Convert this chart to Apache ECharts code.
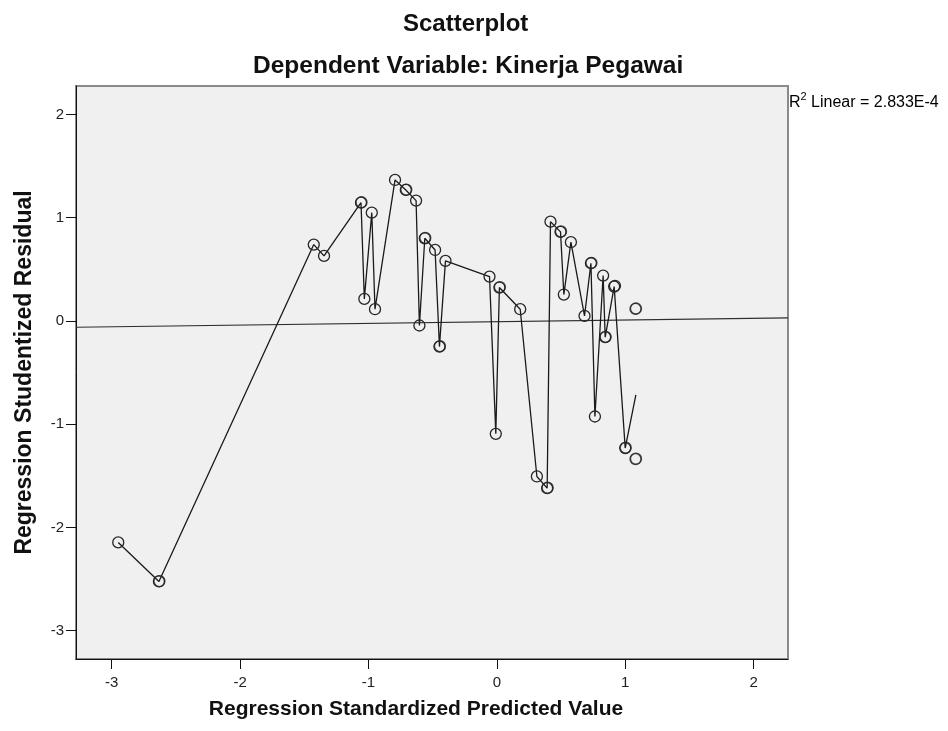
<!DOCTYPE html>
<html>
<head>
<meta charset="utf-8">
<script src="https://cdn.jsdelivr.net/npm/echarts@6/dist/echarts.min.js"></script>
<style>html,body{margin:0;padding:0;background:#fff}#c{width:948px;height:731px}</style>
</head>
<body>
<div id="c"></div>
<script>
// Points joined by the interpolation line, in order of predicted value
var pathPoints = [
  [-2.949, -2.146], [-2.632, -2.524], [-1.426, 0.739], [-1.346, 0.629],
  [-1.058, 1.145], [-1.032, 0.213], [-0.974, 1.048], [-0.949, 0.113],
  [-0.793, 1.365], [-0.709, 1.268], [-0.629, 1.165], [-0.603, -0.045],
  [-0.561, 0.800], [-0.481, 0.687], [-0.447, -0.249], [-0.400, 0.581],
  [-0.057, 0.429], [-0.008, -1.094], [0.020, 0.323], [0.182, 0.113],
  [0.312, -1.507], [0.392, -1.620], [0.418, 0.961], [0.496, 0.862],
  [0.522, 0.255], [0.577, 0.762], [0.683, 0.048], [0.733, 0.558],
  [0.764, -0.926], [0.828, 0.439], [0.844, -0.158], [0.914, 0.332],
  [0.920, 0.340], [1.000, -1.232]
];
// End of the interpolation line (no marker drawn there)
var pathTail = [1.083, -0.716];
// Points not on the line
var loosePoints = [[1.080, 0.116], [1.080, -1.339]];
// Overlapping (repeated) cases that print darker
var repeatedPoints = [
  [-2.628, -2.520], [-1.054, 1.149], [-0.705, 1.272], [-0.557, 0.804],
  [-0.443, -0.245], [0.024, 0.327], [0.396, -1.616], [0.500, 0.866],
  [0.737, 0.562], [0.848, -0.154], [1.004, -1.228], [1.084, -1.335], [1.084, 0.120]
];
// Fit line endpoints (R2 Linear = 2.833E-4)
var fitLine = [[-3.278, -0.061], [2.268, 0.029]];
var xTicks = [-3, -2, -1, 0, 1, 2];
var yTicks = [-3, -2, -1, 0, 1, 2];
var xRange = [-3.278, 2.268];
var yRange = [-3.275, 2.275];

var FONT = "'Liberation Sans', Arial, sans-serif";
var circleStyle = { color: 'rgba(0,0,0,0)', borderColor: '#262626', borderWidth: 1.3 };

var lineData = pathPoints.map(function (p) { return p; });
lineData.push({ value: pathTail, symbol: 'none' });

var chart = echarts.init(document.getElementById('c'), null, { renderer: 'canvas' });
chart.setOption({
  animation: false,
  backgroundColor: '#ffffff',
  title: [
    { text: 'Scatterplot', left: 398, top: 7,
      textStyle: { fontFamily: FONT, fontSize: 24, fontWeight: 'bold', color: '#111' } },
    { text: 'Dependent Variable: Kinerja Pegawai', left: 248, top: 49,
      textStyle: { fontFamily: FONT, fontSize: 24.5, fontWeight: 'bold', color: '#111' } }
  ],
  grid: {
    left: 76, top: 86, right: 160, bottom: 72,
    show: true, backgroundColor: '#f0f0f0', borderColor: '#8a8a8a', borderWidth: 2
  },
  xAxis: {
    type: 'value', min: xRange[0], max: xRange[1],
    name: 'Regression Standardized Predicted Value', nameLocation: 'middle', nameGap: 40,
    nameTextStyle: { fontFamily: FONT, fontSize: 21, fontWeight: 'bold', color: '#111', padding: [0, 32, 0, 0] },
    axisLine: { show: true, onZero: false, lineStyle: { color: '#111', width: 1 } },
    axisTick: { show: true, length: 10, customValues: xTicks, lineStyle: { color: '#111' } },
    axisLabel: { customValues: xTicks, margin: 16, fontFamily: FONT, fontSize: 15, color: '#222' },
    splitLine: { show: false }
  },
  yAxis: {
    type: 'value', min: yRange[0], max: yRange[1],
    name: 'Regression Studentized Residual', nameLocation: 'middle', nameGap: 40,
    nameTextStyle: { fontFamily: FONT, fontSize: 23, fontWeight: 'bold', color: '#111' },
    axisLine: { show: true, onZero: false, lineStyle: { color: '#111', width: 1 } },
    axisTick: { show: true, length: 10, customValues: yTicks, lineStyle: { color: '#111' } },
    axisLabel: { customValues: yTicks, margin: 12, fontFamily: FONT, fontSize: 15, color: '#222' },
    splitLine: { show: false }
  },
  graphic: [{
    type: 'text', left: 789, top: 91,
    style: {
      text: '{a|R}{s|2}{a| Linear = 2.833E-4}',
      rich: {
        a: { fontFamily: FONT, fontSize: 16, color: '#111', lineHeight: 20, verticalAlign: 'bottom' },
        s: { fontFamily: FONT, fontSize: 11, color: '#111', lineHeight: 20, verticalAlign: 'top' }
      }
    }
  }],
  series: [
    { type: 'line', data: fitLine, symbol: 'none', silent: true,
      lineStyle: { color: '#2e2e2e', width: 1.1 }, z: 2 },
    { type: 'line', data: lineData, symbol: 'circle', symbolSize: 11, showAllSymbol: true,
      lineStyle: { color: '#1a1a1a', width: 1.3 }, itemStyle: circleStyle, z: 3 },
    { type: 'scatter', data: loosePoints, symbol: 'circle', symbolSize: 11,
      itemStyle: circleStyle, z: 4 },
    { type: 'scatter', data: repeatedPoints, symbol: 'circle', symbolSize: 11,
      itemStyle: circleStyle, z: 4 }
  ]
});
</script>
</body>
</html>
